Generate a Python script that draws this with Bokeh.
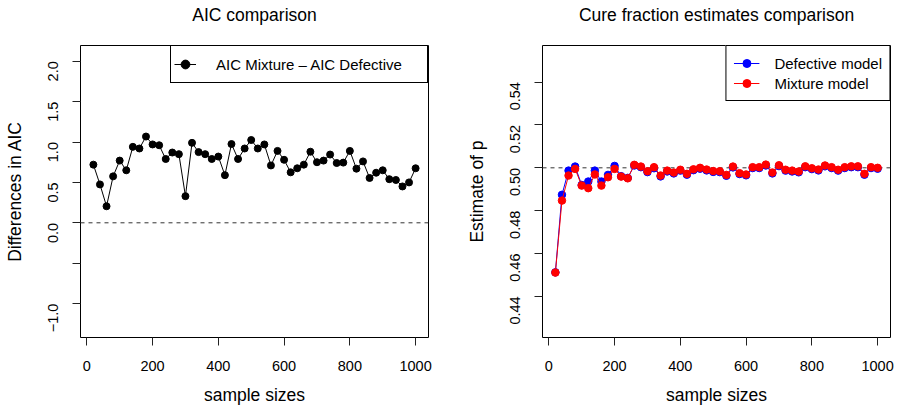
import math
from bokeh.plotting import figure
from bokeh.models import Range1d, FixedTicker, Span, Legend, LegendItem, LinearAxis
from bokeh.layouts import row
from bokeh.embed import file_html
from bokeh.resources import INLINE

# ---------------- data ----------------
sample_sizes = [20, 40, 60, 80, 100, 120, 140, 160, 180, 200,
                220, 240, 260, 280, 300, 320, 340, 360, 380, 400,
                420, 440, 460, 480, 500, 520, 540, 560, 580, 600,
                620, 640, 660, 680, 700, 720, 740, 760, 780, 800,
                820, 840, 860, 880, 900, 920, 940, 960, 980, 1000]

aic_diff = [0.72, 0.475, 0.205, 0.575, 0.77, 0.65, 0.94, 0.92, 1.068, 0.97,
            0.96, 0.79, 0.87, 0.85, 0.33, 0.99, 0.875, 0.85, 0.79, 0.82,
            0.59, 0.975, 0.79, 0.92, 1.025, 0.92, 0.97, 0.71, 0.89, 0.78,
            0.625, 0.675, 0.72, 0.88, 0.75, 0.77, 0.845, 0.74, 0.745, 0.89,
            0.67, 0.76, 0.555, 0.62, 0.65, 0.54, 0.53, 0.45, 0.50, 0.675]

p_defective = [0.4512, 0.4874, 0.4987, 0.5006, 0.4920, 0.4936, 0.4987, 0.4936, 0.4967, 0.5009,
               0.4961, 0.4953, 0.5011, 0.5003, 0.4980, 0.4998, 0.4960, 0.4983, 0.4974, 0.4987,
               0.4968, 0.4989, 0.4996, 0.4988, 0.4981, 0.4980, 0.4963, 0.5002, 0.4971, 0.4965,
               0.4999, 0.4999, 0.5011, 0.4974, 0.5008, 0.4987, 0.4983, 0.4979, 0.5003, 0.4994,
               0.4988, 0.5007, 0.4999, 0.4987, 0.4999, 0.5003, 0.5003, 0.4968, 0.4999, 0.4996]

p_mixture = [0.4511, 0.4847, 0.4964, 0.4995, 0.4917, 0.4905, 0.4969, 0.4917, 0.4956, 0.4995,
             0.4959, 0.4951, 0.5014, 0.5006, 0.4984, 0.5003, 0.4964, 0.4987, 0.4978, 0.4991,
             0.4972, 0.4993, 0.5000, 0.4992, 0.4985, 0.4984, 0.4967, 0.5006, 0.4975, 0.4969,
             0.5003, 0.5003, 0.5015, 0.4978, 0.5012, 0.4991, 0.4987, 0.4983, 0.5007, 0.4998,
             0.4992, 0.5011, 0.5003, 0.4991, 0.5003, 0.5007, 0.5007, 0.4972, 0.5003, 0.5000]

x_ticks = [0, 200, 400, 600, 800, 1000]
aic_ticks = [-1.0, -0.5, 0.0, 0.5, 1.0, 1.5, 2.0]
aic_tick_labels = {-1.0: "\u22121.0", -0.5: "", 0.0: "0.0", 0.5: "0.5", 1.0: "1.0", 1.5: "1.5", 2.0: "2.0"}
p_ticks = [0.44, 0.46, 0.48, 0.50, 0.52, 0.54]
p_tick_labels = {0.44: "0.44", 0.46: "0.46", 0.48: "0.48", 0.50: "0.50", 0.52: "0.52", 0.54: "0.54"}

FONT = "Liberation Sans"


def style(p, title, xlabel, ylabel):
    bottom = p.below[0]
    left = p.left[0]
    for ax in (bottom, left):
        ax.axis_line_color = None
        ax.major_tick_line_color = "#222222"
        ax.major_tick_out = 8
        ax.major_tick_in = 0
        ax.minor_tick_line_color = None
        ax.major_label_text_font = FONT
        ax.major_label_text_font_size = "14.5px"
        ax.major_label_text_font_style = "normal"
        ax.major_label_text_color = "black"
        ax.axis_label_text_font = FONT
        ax.axis_label_text_font_size = "17.5px"
        ax.axis_label_text_font_style = "normal"
        ax.axis_label_text_color = "black"
    bottom.axis_label = xlabel
    bottom.ticker = FixedTicker(ticks=x_ticks)
    bottom.major_label_standoff = 15
    bottom.axis_label_standoff = 11
    left.axis_label = ylabel
    left.major_label_orientation = math.pi / 2
    left.major_label_standoff = 19
    left.axis_label_standoff = 16
    # title drawn as the label of an empty axis above the frame
    top = LinearAxis(ticker=FixedTicker(ticks=[]), axis_label=title,
                     axis_line_color=None, major_tick_out=0, major_tick_in=0,
                     minor_tick_out=0, minor_tick_in=0, major_label_standoff=0,
                     axis_label_standoff=21, axis_label_text_font=FONT,
                     axis_label_text_font_size="17.5px", axis_label_text_font_style="normal",
                     axis_label_text_color="black")
    p.add_layout(top, "above")
    p.xgrid.visible = False
    p.ygrid.visible = False
    p.outline_line_color = "black"
    p.outline_line_alpha = 1
    p.outline_line_width = 1
    p.background_fill_color = "white"
    p.border_fill_color = "white"
    return left


# ---------------- left panel ----------------
p1 = figure(width=462, height=408,
            x_range=Range1d(-19.2, 1039.2), y_range=Range1d(-1.42, 2.195),
            output_backend="svg", toolbar_location=None,
            min_border_left=80, min_border_right=34, min_border_top=45, min_border_bottom=71)
y1 = style(p1, "AIC comparison", "sample sizes", "Differences in AIC")
y1.ticker = FixedTicker(ticks=aic_ticks)
y1.major_label_overrides = aic_tick_labels
p1.add_layout(Span(location=0.0, dimension="width", line_color="#333333",
                   line_width=1, line_dash="4 4", level="underlay"))
l1 = p1.line(sample_sizes, aic_diff, line_color="black", line_width=1)
s1 = p1.scatter(sample_sizes, aic_diff, size=7, marker="circle",
                fill_color="black", line_color="black")
leg1 = Legend(items=[LegendItem(label="AIC Mixture \u2013 AIC Defective", renderers=[l1, s1])],
              location="top_right", margin=0, padding=3, spacing=0,
              glyph_width=22, glyph_height=30, label_height=30, label_width=208,
              label_standoff=20, border_line_color="black", border_line_alpha=1,
              border_line_width=1, label_text_font=FONT, label_text_font_size="15px",
              label_text_color="black", background_fill_color="white", background_fill_alpha=1)
p1.add_layout(leg1)

# ---------------- right panel ----------------
p2 = figure(width=435, height=408,
            x_range=Range1d(-19.2, 1039.2), y_range=Range1d(0.4208, 0.5571),
            output_backend="svg", toolbar_location=None,
            min_border_left=80, min_border_right=7, min_border_top=45, min_border_bottom=71)
y2 = style(p2, "Cure fraction estimates comparison", "sample sizes", "Estimate of p")
y2.ticker = FixedTicker(ticks=p_ticks)
y2.major_label_overrides = p_tick_labels
p2.add_layout(Span(location=0.5, dimension="width", line_color="#333333",
                   line_width=1, line_dash="4 4", level="underlay"))
l2 = p2.line(sample_sizes, p_defective, line_color="blue", line_width=1)
s2 = p2.scatter(sample_sizes, p_defective, size=7.5, marker="circle",
                fill_color="blue", line_color="blue")
l3 = p2.line(sample_sizes, p_mixture, line_color="red", line_width=1)
s3 = p2.scatter(sample_sizes, p_mixture, size=7.5, marker="circle",
                fill_color="red", line_color="red")
leg2 = Legend(items=[LegendItem(label="Defective model", renderers=[l2, s2]),
                     LegendItem(label="Mixture model", renderers=[l3, s3])],
              location="top_right", margin=0, padding=7, spacing=0,
              glyph_width=26, glyph_height=20, label_height=20, label_width=107,
              label_standoff=15, border_line_color="black", border_line_alpha=1,
              border_line_width=1, label_text_font=FONT, label_text_font_size="15px",
              label_text_color="black", background_fill_color="white", background_fill_alpha=1)
p2.add_layout(leg2)

layout = row(p1, p2)
open("out.html", "w").write(file_html(layout, INLINE))
